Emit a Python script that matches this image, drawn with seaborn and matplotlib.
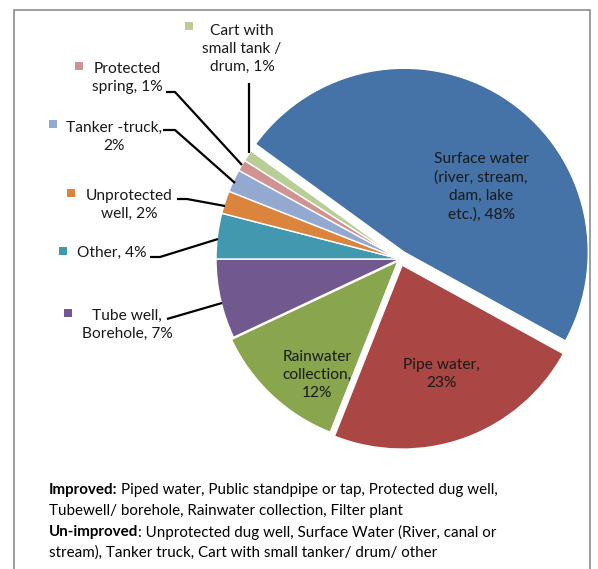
import matplotlib
matplotlib.use("Agg")
import matplotlib.pyplot as plt
import seaborn as sns
from matplotlib.patches import Rectangle

sns.set_theme(style="white")
plt.rcParams['font.family'] = ['Lato', 'DejaVu Sans']

# ---- data ----
categories = ["Surface water\n(river, stream,\ndam, lake\netc.), 48%",
              "Pipe water,\n23%",
              "Rainwater\ncollection,\n12%",
              "Tube well,\nBorehole, 7%",
              "Other, 4%",
              "Unprotected\nwell, 2%",
              "Tanker -truck,\n2%",
              "Protected\nspring, 1%",
              "Cart with\nsmall tank /\ndrum, 1%"]
values = [48, 23, 12, 7, 4, 2, 2, 1, 1]
colors = ["#4572A7", "#AA4643", "#89A54E", "#71588F", "#4198AF",
          "#DB843D", "#93A9CF", "#D19392", "#B9CD96"]
note_lines = [("Improved:", "Piped water, Public standpipe or tap, Protected dug well,"),
              ("", "Tubewell/ borehole, Rainwater collection, Filter plant"),
              ("Un-improved", ": Unprotected dug well, Surface Water (River, canal or"),
              ("", "stream), Tanker truck, Cart with small tanker/ drum/ other")]
title = "Main source of drinking water (%)"

W, H = 598, 569
fig = plt.figure(figsize=(W / 100, H / 100), dpi=100)
ax = fig.add_axes([0, 0, 1, 1])

def Y(py):
    return H - py

cx, cy, R = 400, Y(259), 184
# explode offsets (data units = pixels here)
explode = [8, 6.5, 3, 0, 0, 0, 0, 0, 0]
wedges, _ = ax.pie(values, colors=sns.color_palette(colors), startangle=144,
                   counterclock=False, center=(cx, cy), radius=R,
                   explode=explode,
                   wedgeprops=dict(edgecolor="white", linewidth=1.0))
ax.set_xlim(0, W)
ax.set_ylim(0, H)
ax.set_aspect("equal")
ax.axis("off")

fs = 11.2
ls = 1.38
# inside labels
inside = {0: (481, 187), 1: (441, 374), 2: (317, 375)}
for i, (px, py) in inside.items():
    ax.text(px, Y(py), categories[i], ha="center", va="center", fontsize=fs,
            color="#1a1a1a", linespacing=ls)

# outside labels: (text center x, y), legend square (x, y), leader line points
outside = {
    3: ((127, 325), (68, 313), [(167, 319), (222, 303)]),
    4: ((112, 253), (63, 251), [(150, 257), (160, 257), (218, 239)]),
    5: ((129, 205), (71, 193), [(177, 199), (187, 199), (225, 206)]),
    6: ((114, 137), (53, 124), [(163, 130), (175, 130), (235, 183)]),
    7: ((127, 78), (79, 66), [(166, 92), (175, 92), (242, 165)]),
    8: ((242, 49), (189, 26), [(249, 83), (249, 153)]),
}
for i, ((tx, ty), (sx, sy), pts) in outside.items():
    ax.text(tx, Y(ty), categories[i], ha="center", va="center", fontsize=fs,
            color="#1a1a1a", linespacing=ls)
    ax.add_patch(Rectangle((sx - 4, Y(sy) - 4), 8, 8, color=colors[i], lw=0))
    xs = [p[0] for p in pts]
    ys = [Y(p[1]) for p in pts]
    ax.plot(xs, ys, color="black", lw=1.6, solid_capstyle="butt")

# border
ax.add_patch(Rectangle((14, Y(580)), 576, 570, fill=False, edgecolor="#8c8c8c",
                       lw=1.2))

# clipped title
ax.text(331, Y(-4), title, ha="right", va="baseline", fontsize=13,
        fontweight="bold", color="#1a1a1a")

# notes
fig.canvas.draw()
renderer = fig.canvas.get_renderer()
for (bold, normal), py in zip(note_lines, [490, 511, 532, 553]):
    x0 = 49
    if bold:
        t = ax.text(x0, Y(py), bold, ha="left", va="center", fontsize=10.9,
                    fontweight="bold", color="black")
        bb = t.get_window_extent(renderer)
        x0 = x0 + bb.width + (3.5 if normal[0] != ":" else 0)
    ax.text(x0, Y(py), normal, ha="left", va="center", fontsize=10.9,
            color="black")

fig.savefig("out.png", dpi=100)
